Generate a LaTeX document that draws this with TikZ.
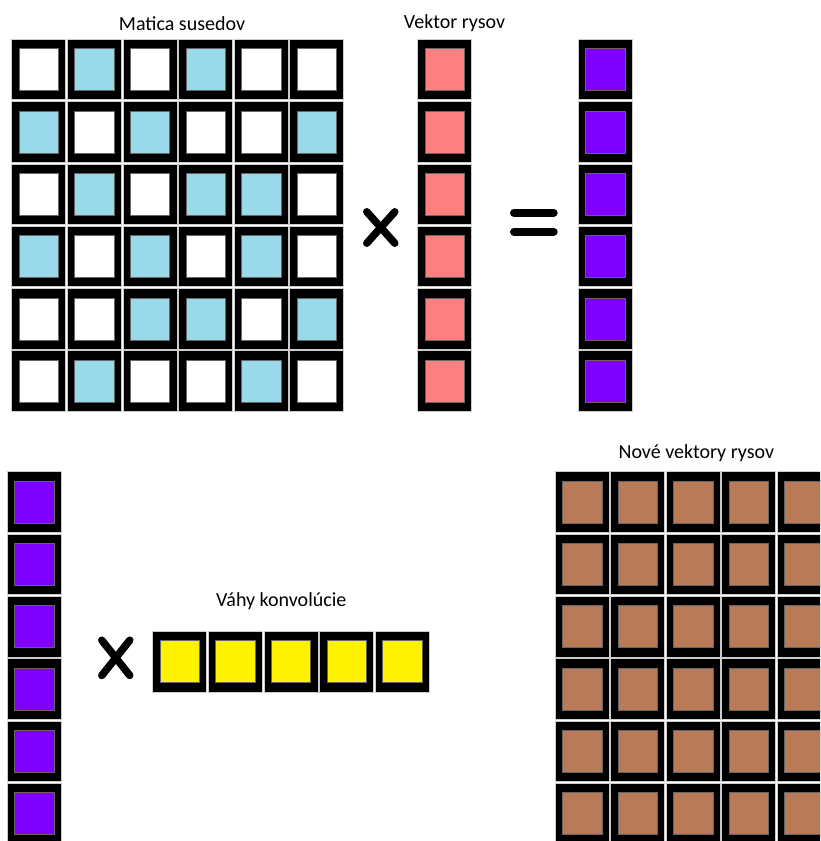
\documentclass[tikz,border=0pt]{standalone}
\usepackage{fontspec}
\setmainfont{Carlito}
\definecolor{nbr}{RGB}{153,217,234}
\definecolor{feat}{RGB}{255,127,127}
\definecolor{agg}{RGB}{128,0,255}
\definecolor{wgt}{RGB}{255,242,0}
\definecolor{newf}{RGB}{185,122,87}
\begin{document}
\begin{tikzpicture}[x=1pt,y=-1pt,
  box/.style={rectangle, fill=black, draw=gray!40, line width=0.8pt, minimum width=54pt, minimum height=60.5pt, inner sep=0pt},
  core/.style={rectangle, draw=black!60, line width=0.5pt, minimum width=39.5pt, minimum height=42pt, inner sep=0pt},
  title/.style={anchor=base, font=\fontsize{20}{24}\selectfont},
  opline/.style={line width=7.5pt, line cap=round}]
\useasboundingbox (0,0) rectangle (820,841);
\clip (0,0) rectangle (820,841);

% adjacency matrix
\foreach \row [count=\i from 0] in {
  {white,nbr,white,nbr,white,white},
  {nbr,white,nbr,white,white,nbr},
  {white,nbr,white,nbr,nbr,white},
  {nbr,white,nbr,white,nbr,white},
  {white,white,nbr,nbr,white,nbr},
  {white,nbr,white,white,nbr,white}}{
  \foreach \c [count=\j from 0] in \row {
    \node[box] (a-\i-\j) at ({38.7+55.6*\j},{69.6+62.3*\i}) {};
    \node[core, fill=\c] at (a-\i-\j) {};
  }
}
\node[title] (lblAdj) at (182,30) {Matica susedov};

% feature vector and result
\foreach \i in {0,...,5}{
  \node[box] (f-\i) at (444.7,{69.6+62.3*\i}) {};
  \node[core, fill=feat] at (f-\i) {};
  \node[box] (h-\i) at (605.3,{69.6+62.3*\i}) {};
  \node[core, fill=agg] at (h-\i) {};
}
\node[title] (lblFeat) at (454.5,28) {Vektor rysov};

% x and =
\draw[opline] (366.8,211.8) -- (394.8,243.2);
\draw[opline] (394.8,211.8) -- (366.8,243.2);
\draw[opline, line width=8pt] (514,212.7) -- (553.7,212.7);
\draw[opline, line width=8pt] (514,231.7) -- (553.7,231.7);

% second step
\foreach \i in {0,...,5}{
  \node[box] (hb-\i) at (34.3,{502.1+62.3*\i}) {};
  \node[core, fill=agg] at (hb-\i) {};
}
\draw[opline] (101.8,640.2) -- (129.8,675.5);
\draw[opline] (129.8,640.2) -- (101.8,675.5);

\foreach \j in {0,...,4}{
  \node[box] (w-\j) at ({179.7+55.6*\j},661.7) {};
  \node[core, fill=wgt] at (w-\j) {};
}
\node[title] (lblW) at (281.3,606) {Váhy konvolúcie};

% new features
\foreach \i in {0,...,5}{
  \foreach \j in {0,...,4}{
    \node[box] (n-\i-\j) at ({582+55.6*\j},{502.1+62.3*\i}) {};
    \node[core, fill=newf] at (n-\i-\j) {};
  }
}
\node[title] (lblNew) at (696.3,458) {Nové vektory rysov};

\end{tikzpicture}
\end{document}
